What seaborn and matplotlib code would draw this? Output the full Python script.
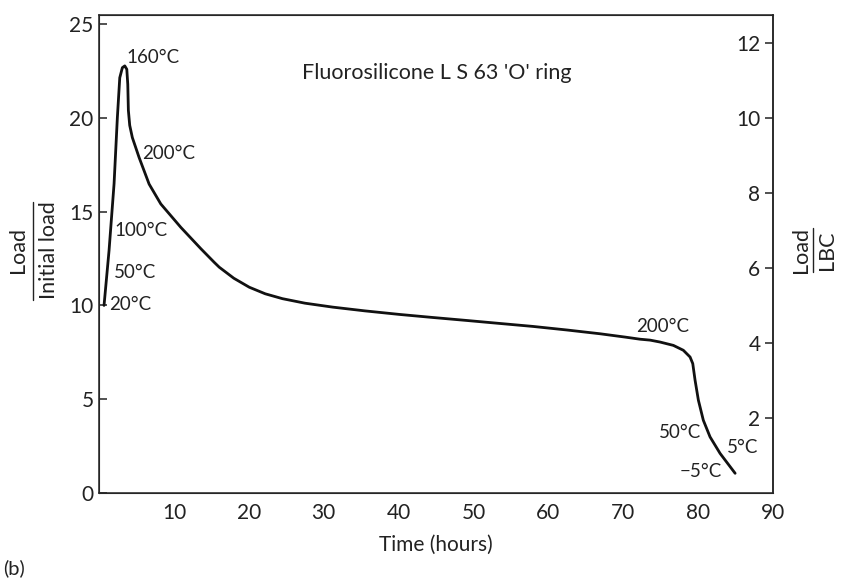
"""
Fluorosilicone 'O' ring load relaxation curve
"""

import matplotlib
matplotlib.use('Agg')
import matplotlib.pyplot as plt
import seaborn as sns
import pandas as pd

# Curve (time in hours, load / initial load)
time_h = [0.67, 1.34, 2.01, 2.45, 2.77, 3.12, 3.44, 3.71, 3.84, 3.92, 4.1,
          4.45, 5.35, 6.69, 8.25, 10.93, 13.61, 15.38, 16.05, 18.0, 20.07,
          22.2, 24.5, 27.5, 31.2, 35.5, 40.13, 44.5, 49.06, 53.5, 57.97,
          62.5, 66.9, 70.3, 72.24, 73.6, 74.9, 76.7, 78.03, 78.93, 79.29,
          79.6, 80.04, 80.7, 81.6, 82.94, 84.95]
load_ratio = [10.0, 12.93, 16.49, 20.02, 22.14, 22.68, 22.77, 22.59, 21.79,
              20.4, 19.6, 18.95, 17.89, 16.47, 15.41, 14.16, 13.02, 12.30,
              12.04, 11.45, 10.97, 10.62, 10.36, 10.12, 9.91, 9.71, 9.52,
              9.36, 9.2, 9.04, 8.88, 8.69, 8.49, 8.31, 8.20, 8.15, 8.05, 7.87,
              7.61, 7.25, 6.9, 6.01, 4.95, 3.88, 2.99, 2.11, 1.05]

# Temperature annotations: (text, x, y, horizontal alignment)
temp_labels = ['160°C', '200°C', '100°C', '50°C', '20°C',
               '200°C', '50°C', '5°C', '−5°C']
temp_x = [3.6, 5.75, 2.0, 2.0, 1.3, 71.7, 77.6, 86.0, 80.3]
temp_y = [23.2, 18.1, 14.0, 11.75, 10.05, 8.9, 3.24, 2.4, 1.17]
temp_ha = ['left', 'left', 'left', 'left', 'left', 'left',
           'center', 'center', 'center']

x_ticks = [10, 20, 30, 40, 50, 60, 70, 80, 90]
left_ticks = [0, 5, 10, 15, 20, 25]
right_ticks = [2, 4, 6, 8, 10, 12]

sns.set_style('white')
plt.rcParams['font.family'] = ['Lato', 'DejaVu Sans']

df = pd.DataFrame({'time': time_h, 'load': load_ratio})

fig = plt.figure(figsize=(8.42, 5.8), dpi=100)
ax = fig.add_axes([0.1176, 0.15, 0.8004, 0.824])

sns.lineplot(data=df, x='time', y='load', sort=False, color='#111111',
             linewidth=2.0, ax=ax)

ax.set_xlim(0, 90)
ax.set_ylim(0, 25.48)
ax.set_xticks(x_ticks)
ax.set_yticks(left_ticks)
ax.set_xlabel('Time (hours)', fontsize=15, color='#222222', labelpad=9)
ax.set_ylabel('')
ax.tick_params(direction='in', length=6, width=1.1, labelsize=15,
               colors='#222222')
ax.tick_params(axis='x', pad=7)
ax.tick_params(axis='y', pad=4)

for side in ['left', 'right', 'top', 'bottom']:
    ax.spines[side].set_linewidth(1.1)
    ax.spines[side].set_color('#222222')

# Right axis: load / LBC = half of left scale
ax2 = ax.twinx()
ax2.set_ylim(0, 25.48 / 2)
ax2.set_yticks(right_ticks)
ax2.tick_params(axis='y', direction='in', length=6, width=1.1, labelsize=15,
                colors='#222222', pad=-9)
for t in ax2.get_yticklabels():
    t.set_horizontalalignment('right')
ax2.spines['right'].set_linewidth(1.1)

for txt, x, y, ha in zip(temp_labels, temp_x, temp_y, temp_ha):
    ax.text(x, y, txt, fontsize=13.5, ha=ha, va='center', color='#222222')

ax.text(45.1, 22.4, "Fluorosilicone L S 63 'O' ring", fontsize=15.5,
        ha='center', va='center', color='#222222')

# Fraction-style axis labels
fig.text(18 / 842, 1 - 250 / 580, 'Load', rotation=90, fontsize=15.5,
         ha='center', va='center', color='#222222')
fig.text(49 / 842, 1 - 250 / 580, 'Initial load', rotation=90, fontsize=15.5,
         ha='center', va='center', color='#222222')
fig.add_artist(plt.Line2D([33 / 842, 33 / 842], [1 - 202 / 580, 1 - 300 / 580],
                          color='#222222', linewidth=1.0))

fig.text(801 / 842, 1 - 250 / 580, 'Load', rotation=90, fontsize=15.5,
         ha='center', va='center', color='#222222')
fig.text(827 / 842, 1 - 250 / 580, 'LBC', rotation=90, fontsize=15.5,
         ha='center', va='center', color='#222222')
fig.add_artist(plt.Line2D([813 / 842, 813 / 842], [1 - 228 / 580, 1 - 272 / 580],
                          color='#222222', linewidth=1.0))

fig.text(3 / 842, 1 - 568 / 580, '(b)', fontsize=14.5, ha='left', va='center',
         color='#222222')

fig.savefig('out.png', dpi=100)
